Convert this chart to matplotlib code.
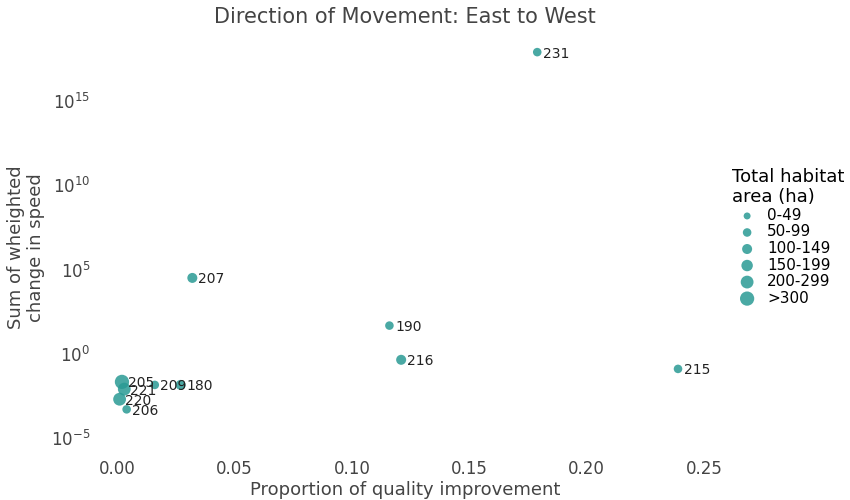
import matplotlib
matplotlib.use("Agg")
import matplotlib.pyplot as plt
import numpy as np

labels = ["231", "207", "190", "216", "215", "205", "221", "220", "206", "209", "180"]
prop = [0.179, 0.032, 0.116, 0.121, 0.239, 0.002, 0.003, 0.001, 0.004, 0.016, 0.027]
log_speed = [17.9, 4.5, 1.67, -0.36, -0.9, -1.67, -2.1, -2.7, -3.3, -1.85, -1.85]
size_class = [1, 2, 1, 2, 1, 5, 4, 4, 1, 1, 2]
legend_labels = ["0-49", "50-99", "100-149", "150-199", "200-299", ">300"]
sizes = [25, 38, 52, 68, 85, 105]
color = "#2a9a94"

fig = plt.figure(figsize=(8.5, 5), dpi=100)
ax = fig.add_axes([0.112, 0.09, 0.729, 0.83])
speed = [10**v for v in log_speed]
ax.scatter(prop, speed, s=[sizes[c] for c in size_class], color=color, alpha=0.85, edgecolors="none", zorder=3)
for x, y, l in zip(prop, speed, labels):
    ax.annotate(l, (x, y), xytext=(4, -4), textcoords="offset points", fontsize=10, color="#222222")
ax.set_yscale("log")
ax.set_ylim(10**-6.01, 10**18.62)
ax.set_xlim(-0.0094, 0.2547)
ax.set_yticks([1e-5, 1, 1e5, 1e10, 1e15])
ax.set_yticklabels([r"$10^{-5}$", r"$10^{0}$", r"$10^{5}$", r"$10^{10}$", r"$10^{15}$"])
ax.minorticks_off()
ax.set_xticks([0, 0.05, 0.10, 0.15, 0.20, 0.25])
ax.set_xticklabels(["0.00", "0.05", "0.10", "0.15", "0.20", "0.25"])
for s in ax.spines.values():
    s.set_visible(False)
ax.tick_params(length=0, labelsize=12, colors="#444444")
ax.set_xlabel("Proportion of quality improvement", fontsize=13, color="#444444", labelpad=2)
ax.set_ylabel("Sum of wheighted\nchange in speed", fontsize=13, color="#444444")
ax.set_title("Direction of Movement: East to West", fontsize=15, color="#444444", pad=12)

handles = [plt.scatter([], [], s=s, color=color, alpha=0.85, edgecolors="none") for s in sizes]
leg = fig.legend(handles, legend_labels, title="Total habitat\narea (ha)", loc="upper left",
                 bbox_to_anchor=(0.852, 0.68), frameon=False, fontsize=11, title_fontsize=13,
                 handletextpad=0.3, labelspacing=0.1, borderpad=0)
leg._legend_box.align = "left"
fig.savefig("out.png")
